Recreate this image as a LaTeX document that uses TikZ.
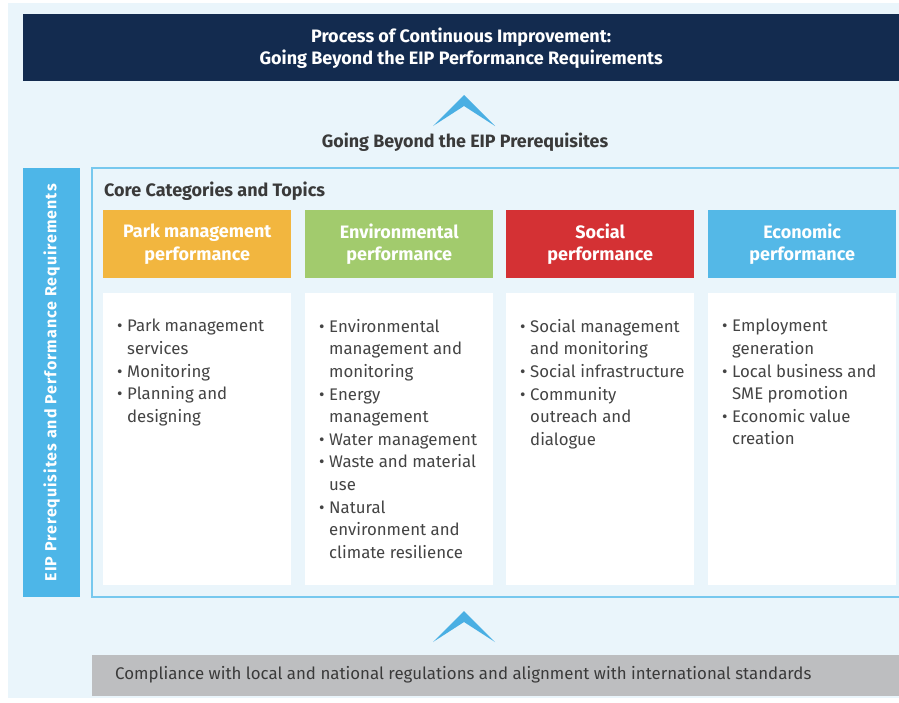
\documentclass[tikz,border=0pt]{standalone}
\usepackage{fontspec}
\setmainfont{Fira Sans}
\definecolor{bglight}{HTML}{EAF5FB}
\definecolor{navy}{HTML}{132B4F}
\definecolor{chev}{HTML}{4AAFE3}
\definecolor{vbar}{HTML}{4DB6E8}
\definecolor{frame}{HTML}{77C8EE}
\definecolor{orangeh}{HTML}{F2B63F}
\definecolor{greenh}{HTML}{A2CB6D}
\definecolor{redh}{HTML}{D43134}
\definecolor{blueh}{HTML}{54B8E7}
\definecolor{grayb}{HTML}{BDBEC0}
\definecolor{txt}{HTML}{3A3A3A}
\definecolor{txtl}{HTML}{444444}
\newcommand{\itm}{\makebox[10pt][l]{\textbullet}}
\newcommand{\cnt}{\hspace*{10pt}}
\begin{document}
\begin{tikzpicture}[x=1pt,y=-1pt,
  hdr/.style={minimum width=188pt,minimum height=68pt,inner sep=0pt,anchor=north west,
    text=white,font=\fontsize{18}{22.5}\selectfont\bfseries,align=center},
  wbox/.style={fill=white,minimum width=188pt,minimum height=292pt,inner sep=0pt,anchor=north west},
  lst/.style={anchor=north west,inner sep=0pt,align=left,text=txtl,
    font=\fontsize{16.8}{22.6}\selectfont},
  chevron/.style={fill=chev}]
\useasboundingbox (0,0) rectangle (899,702);
\fill[bglight] (8,3) rectangle (899,698);
% title banner
\node[fill=navy,minimum width=876pt,minimum height=67pt,anchor=north west,inner sep=0pt,
  text=white,font=\fontsize{18}{22}\selectfont\bfseries,align=center] (title) at (23,14)
  {Process of Continuous Improvement:\\Going Beyond the EIP Performance Requirements};
% chevron 1
\coordinate (c1) at (464,95);
\fill[chevron] (433,126) -- (c1) -- (495,126) -- (464,106) -- cycle;
\node[text=txt,font=\fontsize{17.9}{20}\selectfont\bfseries] (beyond) at (465,142)
  {Going Beyond the EIP Prerequisites};
% vertical bar
\node[fill=vbar,minimum width=57pt,minimum height=429pt,anchor=north west,inner sep=0pt] (vb) at (23,168) {};
\node[rotate=90,text=white,font=\fontsize{16}{18}\selectfont\bfseries] at (vb.center)
  {\addfontfeatures{LetterSpace=6}EIP Prerequisites and Performance Requirements};
% frame
\draw[frame,line width=1.2pt,fill=bglight] (910,168) -- (92,168) -- (92,597) -- (910,597);
\node[anchor=base west,inner sep=0pt,text=txt,font=\fontsize{18}{20}\selectfont\bfseries] (core) at (104,196)
  {Core Categories and Topics};
% headers
\node[hdr,fill=orangeh] (h1) at (103,210) {Park management\\performance};
\node[hdr,fill=greenh] (h2) at (305,210) {Environmental\\performance};
\node[hdr,fill=redh] (h3) at (506,210) {Social\\performance};
\node[hdr,fill=blueh] (h4) at (708,210) {Economic\\performance};
% white boxes
\node[wbox] (w1) at (103,293) {};
\node[wbox] (w2) at (305,293) {};
\node[wbox] (w3) at (506,293) {};
\node[wbox] (w4) at (708,293) {};
% lists
\node[lst] (l1) at (117,319) {\itm Park management\\\cnt services\\\itm Monitoring\\\itm Planning and\\\cnt designing};
\node[lst] (l2) at (319,319) {\itm Environmental\\\cnt management and\\\cnt monitoring\\\itm Energy\\\cnt management\\\itm Water management\\\itm Waste and material\\\cnt use\\\itm Natural\\\cnt environment and\\\cnt climate resilience};
\node[lst] (l3) at (520,319) {\itm Social management\\\cnt and monitoring\\\itm Social infrastructure\\\itm Community\\\cnt outreach and\\\cnt dialogue};
\node[lst] (l4) at (722,319) {\itm Employment\\\cnt generation\\\itm Local business and\\\cnt SME promotion\\\itm Economic value\\\cnt creation};
% chevron 2
\coordinate (c2) at (464,611);
\fill[chevron] (433,642) -- (c2) -- (495,642) -- (464,622) -- cycle;
% compliance bar
\node[fill=grayb,minimum width=807pt,minimum height=41pt,anchor=north west,inner sep=0pt] (comp) at (92,655) {};
\node[anchor=west,inner sep=0pt,text=txt,font=\fontsize{16.85}{20}\selectfont] (comptext) at (115,675)
  {Compliance with local and national regulations and alignment with international standards};
\end{tikzpicture}
\end{document}
